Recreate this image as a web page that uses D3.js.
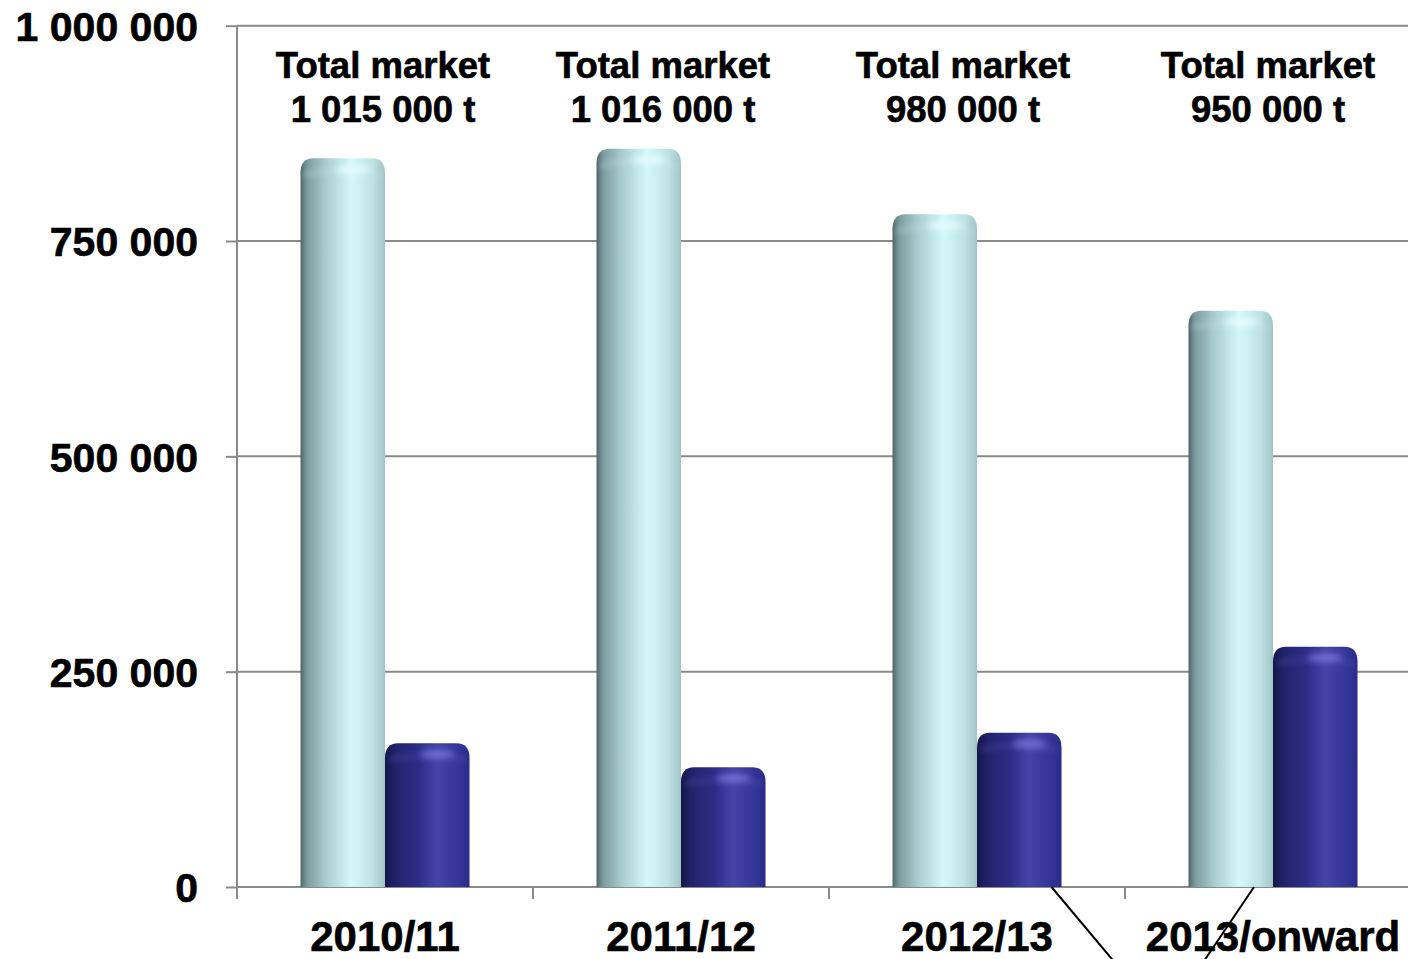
<!DOCTYPE html>
<html>
<head>
<meta charset="utf-8">
<script src="https://cdn.jsdelivr.net/npm/d3@7"></script>
<style>
  html, body { margin: 0; padding: 0; background: #ffffff; }
  svg { display: block; }
  text { font-family: "Liberation Sans", Arial, sans-serif; font-weight: bold; fill: #000; stroke: #000; stroke-width: 0.6px; }
</style>
</head>
<body>
<svg id="chart" width="1408" height="959"></svg>
<script>
// Seasons on the category axis
const categories = ["2010/11", "2011/12", "2012/13", "2013/onward"];
// Two series per season (tonnes)
const seriesNames = ["main", "other"];
const mainValues  = [846000, 857000, 781000, 669000];
const otherValues = [167000, 139000, 179000, 279000];
// Total-market annotation text above each season
const totalLabels = ["1 015 000 t", "1 016 000 t", "980 000 t", "950 000 t"];
// Y axis ticks
const yTicks = [0, 250000, 500000, 750000, 1000000];
const yTickLabels = ["0", "250 000", "500 000", "750 000", "1 000 000"];

// Layout
const W = 1408, H = 959;
const plot = { left: 237, top: 25.7, bottom: 887, step: 296 };
const labelNudge = [-2, -18, -14, -5];

const svg = d3.select("#chart");

const x = d3.scaleBand()
  .domain(categories)
  .range([plot.left, plot.left + plot.step * categories.length])
  .paddingInner(0).paddingOuter(0);

const xInner = d3.scaleBand()
  .domain(seriesNames)
  .range([0, x.bandwidth()])
  .paddingInner(0).paddingOuter(0.751);

const y = d3.scaleLinear().domain([0, 1000000]).range([plot.bottom, plot.top]);

// Gradients for the cylinder shading
const defs = svg.append("defs");
function hGrad(id, stops) {
  const g = defs.append("linearGradient").attr("id", id)
    .attr("x1", "0%").attr("x2", "100%").attr("y1", "0%").attr("y2", "0%");
  stops.forEach(([o, c]) => g.append("stop").attr("offset", o).attr("stop-color", c));
}
hGrad("gradMain", [
  ["0%", "#4e6769"], ["8%", "#7d9c9e"], ["30%", "#a9ccce"],
  ["60%", "#d3f8fb"], ["85%", "#bfe2e4"], ["100%", "#a2c4c6"]
]);
hGrad("gradOther", [
  ["0%", "#15154a"], ["12%", "#22226a"], ["40%", "#2d2d88"],
  ["62%", "#4444a8"], ["85%", "#36369a"], ["100%", "#2b2b88"]
]);
defs.append("filter").attr("id", "soft")
  .attr("x", "-50%").attr("y", "-100%").attr("width", "200%").attr("height", "300%")
  .append("feGaussianBlur").attr("stdDeviation", 3);

// Gridlines
const grid = svg.append("g");
grid.selectAll("line").data(yTicks.filter(d => d > 0)).join("line")
  .attr("x1", plot.left).attr("x2", W)
  .attr("y1", d => y(d)).attr("y2", d => y(d))
  .attr("stroke", "#8a8a8a").attr("stroke-width", 2);

const labelFont = sel => sel
  .style("font-family", "'Liberation Sans', Arial, sans-serif")
  .style("font-weight", "bold").attr("fill", "#000");

// Y axis
const yAxis = svg.append("g").attr("transform", `translate(${plot.left},0)`)
  .call(d3.axisLeft(y).tickValues(yTicks).tickSize(11).tickFormat((d, i) => yTickLabels[i]));
yAxis.select(".domain").remove();
yAxis.append("line").attr("x1", 0).attr("x2", 0).attr("y1", y(1000000)).attr("y2", plot.bottom + 12)
  .attr("stroke", "#8a8a8a").attr("stroke-width", 2);
yAxis.selectAll(".tick line").attr("stroke", "#8a8a8a").attr("stroke-width", 2);
yAxis.selectAll(".tick text")
  .attr("x", -39).attr("dy", "0.36em")
  .style("font-size", "41px").call(labelFont);

// X axis
const xAxis = svg.append("g").attr("transform", `translate(0,${plot.bottom})`)
  .call(d3.axisBottom(x).tickSize(0).tickPadding(0));
xAxis.select(".domain").remove();
xAxis.append("line").attr("x1", plot.left).attr("x2", W).attr("y1", 0).attr("y2", 0)
  .attr("stroke", "#8a8a8a").attr("stroke-width", 2);
xAxis.selectAll(".sep").data(categories.slice(1)).join("line").attr("class", "sep")
  .attr("x1", d => x(d)).attr("x2", d => x(d)).attr("y1", 0).attr("y2", 12)
  .attr("stroke", "#8a8a8a").attr("stroke-width", 2);
xAxis.selectAll(".tick text")
  .attr("y", 64).attr("dy", 0)
  .style("font-size", "42px").call(labelFont);

// Bar shape: square bottom, rounded top corners
function cylinderPath(x0, w, top, bottom) {
  const rx = Math.min(13, w / 2), ry = Math.min(15, (bottom - top) / 2);
  return `M${x0},${bottom} L${x0},${top + ry} Q${x0},${top} ${x0 + rx},${top}` +
    ` L${x0 + w - rx},${top} Q${x0 + w},${top} ${x0 + w},${top + ry} L${x0 + w},${bottom} Z`;
}

const rows = categories.map((c, i) => ({ cat: c, main: mainValues[i], other: otherValues[i] }));
const barGroups = svg.append("g").selectAll("g").data(rows).join("g")
  .attr("transform", d => `translate(${x(d.cat)},0)`);

const barData = d => seriesNames.map(s => ({ s, v: d[s] }));
const fills = { main: "url(#gradMain)", other: "url(#gradOther)" };
const caps = { main: "#ecffff", other: "#7a7ae0" };
const rims = { main: "#cfe9ea", other: "#5c5cc0" };

barGroups.selectAll("path.bar").data(barData).join("path").attr("class", "bar")
  .attr("d", b => cylinderPath(xInner(b.s), xInner.bandwidth(), y(b.v), y(0)))
  .attr("fill", b => fills[b.s]);

// Shading of the rounded cap
barGroups.selectAll("path.rim").data(barData).join("path").attr("class", "rim")
  .attr("d", b => {
    const x0 = xInner(b.s) + 3, w = xInner.bandwidth() - 6, t = y(b.v) + 3;
    return `M${x0},${t + 14} Q${x0 + w / 2},${t + 5} ${x0 + w},${t + 14}`;
  })
  .attr("fill", "none").attr("stroke", b => rims[b.s]).attr("stroke-width", 3)
  .attr("opacity", 0.5).attr("filter", "url(#soft)");

// Highlight on the cap
barGroups.selectAll("ellipse.hl").data(barData).join("ellipse").attr("class", "hl")
  .attr("cx", b => xInner(b.s) + xInner.bandwidth() * 0.62)
  .attr("cy", b => y(b.v) + 11)
  .attr("rx", xInner.bandwidth() * 0.2).attr("ry", 4)
  .attr("fill", b => caps[b.s]).attr("opacity", 0.8).attr("filter", "url(#soft)");

// Total-market annotations
const annX = (d, i) => x(d.cat) + x.bandwidth() / 2 + labelNudge[i];
const ann = svg.append("g").selectAll("text").data(rows).join("text")
  .attr("text-anchor", "middle")
  .attr("x", annX)
  .style("font-size", "36.5px");
ann.append("tspan").attr("y", 78).attr("x", annX).text("Total market");
ann.append("tspan").attr("y", 122).attr("x", annX).text((d, i) => totalLabels[i]);

// Leader lines running off the bottom edge from the last two seasons
const leaders = [
  { cat: "2012/13", s: "other", dxTop: -10, dxBottom: 62 },
  { cat: "2013/onward", s: "main", dxTop: -19, dxBottom: -50 }
];
svg.append("g").selectAll("line").data(leaders).join("line")
  .attr("x1", d => x(d.cat) + xInner(d.s) + xInner.bandwidth() + d.dxTop)
  .attr("y1", y(0))
  .attr("x2", d => x(d.cat) + xInner(d.s) + xInner.bandwidth() + d.dxTop + d.dxBottom)
  .attr("y2", H + 2)
  .attr("stroke", "#000").attr("stroke-width", 2);
</script>
</body>
</html>
